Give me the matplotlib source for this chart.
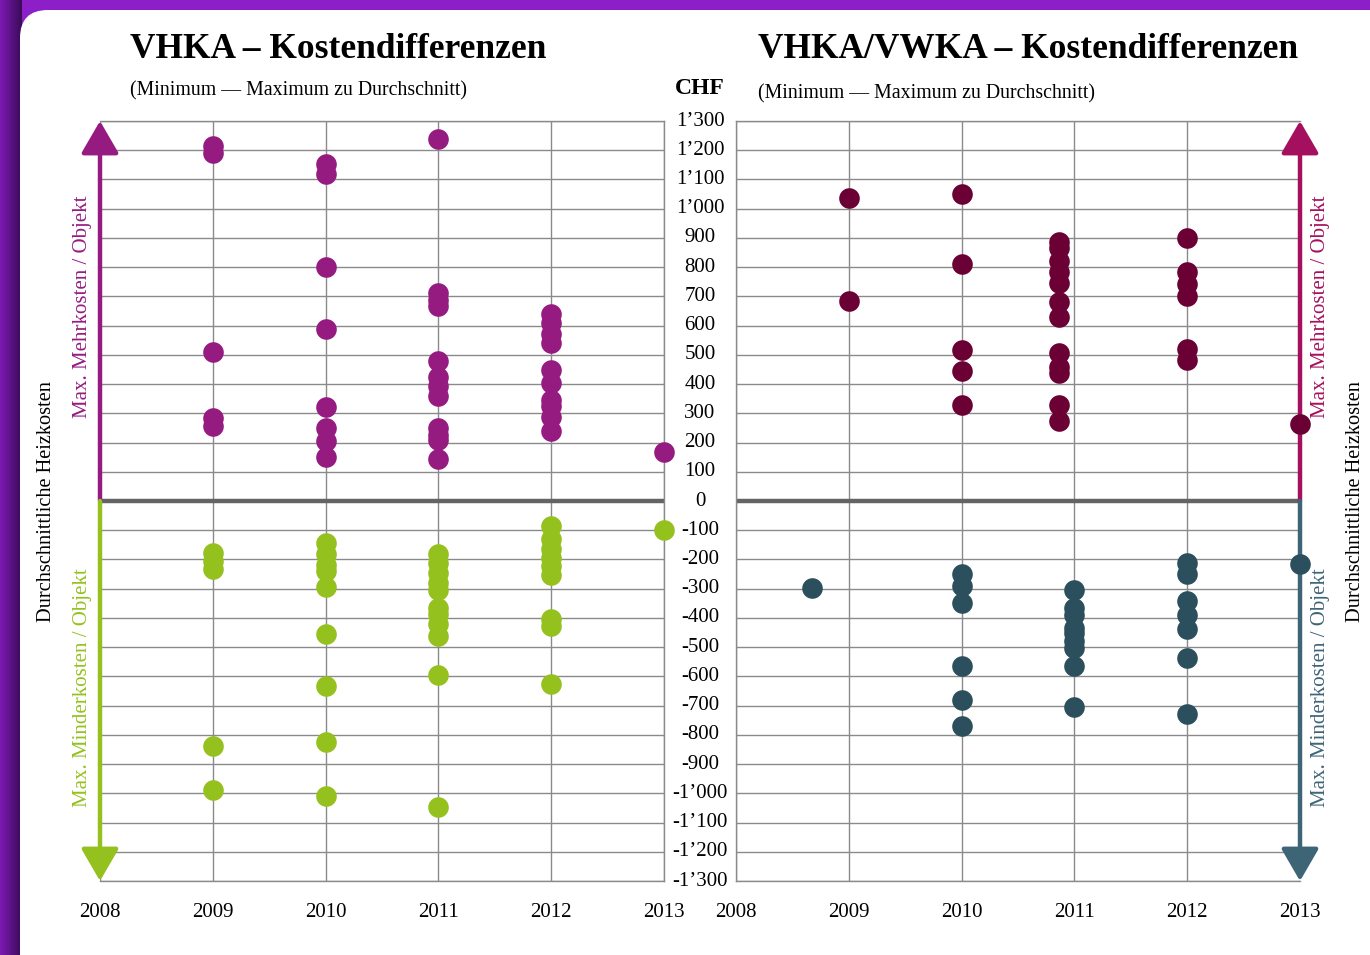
import numpy as np
import matplotlib.pyplot as plt
from matplotlib.patches import FancyBboxPatch
from matplotlib.colors import LinearSegmentedColormap
from matplotlib.transforms import blended_transform_factory

plt.rcParams['font.family'] = ['Liberation Serif', 'DejaVu Serif']

# Werte (CHF) pro Jahr
years = [2008, 2009, 2010, 2011, 2012, 2013]
year_labels = ['2008', '2009', '2010', '2011', '2012', '2013']

# VHKA - Mehrkosten
vhka_plus_x = [2009] * 5 + [2010] * 8 + [2011] * 12 + [2012] * 10 + [2013]
vhka_plus_y = [1215, 1190, 510, 284, 258,
               1153, 1119, 802, 588, 323, 249, 205, 152,
               1237, 713, 688, 668, 478, 425, 395, 359, 249, 226, 209, 143,
               640, 608, 572, 540, 448, 403, 346, 325, 288, 241,
               167]
# VHKA - Minderkosten
vhka_minus_x = [2009] * 5 + [2010] * 9 + [2011] * 11 + [2012] * 9 + [2013]
vhka_minus_y = [-178, -205, -233, -838, -990,
                -144, -180, -220, -238, -294, -455, -633, -825, -1009,
                -182, -212, -245, -280, -305, -367, -388, -420, -462, -595, -1046,
                -86, -131, -165, -196, -222, -253, -405, -428, -627,
                -100]

# VHKA/VWKA - Mehrkosten
vwka_plus_x = [2009] * 2 + [2010] * 5 + [2010.86] * 12 + [2012] * 6 + [2013]
vwka_plus_y = [1037, 684,
               1049, 810, 516, 445, 330,
               885, 865, 820, 785, 745, 682, 628, 505, 460, 438, 330, 275,
               899, 783, 743, 700, 519, 483,
               264]
# VHKA/VWKA - Minderkosten
vwka_minus_x = [2008.67] + [2010] * 6 + [2011] * 9 + [2012] * 7 + [2013]
vwka_minus_y = [-297,
                -250, -291, -348, -563, -681, -770,
                -303, -367, -390, -433, -453, -480, -503, -563, -704,
                -213, -250, -342, -390, -439, -538, -727,
                -216]

yticks = list(range(-1300, 1301, 100))


def chf(v):
    s = f"{abs(v):,}".replace(",", "\u2019")
    return ("-" if v < 0 else "") + s


W, H = 1370, 955
fig = plt.figure(figsize=(13.7, 9.55), dpi=100)
fig.patch.set_facecolor('#8c1fc8')

# Hintergrund: lila Rand + weisse Karte
bg = fig.add_axes([0, 0, 1, 1], zorder=-10)
bg.set_xlim(0, W)
bg.set_ylim(H, 0)
bg.axis('off')
grad = np.linspace(0, 1, 50)[None, :]
cm = LinearSegmentedColormap.from_list('g', ['#7c1ab4', '#3b0b58'])
bg.imshow(np.repeat(grad, 10, axis=0), extent=(0, 22, H, 0), cmap=cm, aspect='auto')
bg.add_patch(FancyBboxPatch((20, 10), 1500, 1200, boxstyle='round,pad=0,rounding_size=28',
                            fc='white', ec='none'))


def panel(rect, up_x, up_y, dn_x, dn_y, c_up, c_dn, a_up, a_dn, arrow_x):
    ax = fig.add_axes(rect)
    ax.set_xlim(2008, 2013)
    ax.set_ylim(-1300, 1300)
    ax.set_xticks(years)
    ax.set_xticklabels(year_labels, fontsize=15)
    ax.set_yticks(yticks)
    ax.set_yticklabels([])
    ax.tick_params(length=0, pad=16)
    ax.grid(True, color='#8a8a8a', lw=1)
    ax.set_axisbelow(True)
    for s in ax.spines.values():
        s.set_color('#8a8a8a')
        s.set_linewidth(1)
    ax.spines['left' if arrow_x == 2008 else 'right'].set_visible(False)
    ax.axhline(0, color='#646464', lw=3.2, zorder=1)
    ax.annotate('', xy=(arrow_x, 1300), xytext=(arrow_x, 0),
                arrowprops=dict(arrowstyle='-|>,head_length=1.0,head_width=0.58',
                                mutation_scale=20, color=a_up, lw=3.2, shrinkA=0, shrinkB=0),
                annotation_clip=False, zorder=3)
    ax.annotate('', xy=(arrow_x, -1300), xytext=(arrow_x, 0),
                arrowprops=dict(arrowstyle='-|>,head_length=1.0,head_width=0.58',
                                mutation_scale=20, color=a_dn, lw=3.2, shrinkA=0, shrinkB=0),
                annotation_clip=False, zorder=3)
    ax.scatter(up_x, up_y, s=220, color=c_up, zorder=4, clip_on=False, lw=0)
    ax.scatter(dn_x, dn_y, s=220, color=c_dn, zorder=4, clip_on=False, lw=0)
    return ax


bottom = 1 - 881 / H
height = (881 - 121) / H
ax1 = panel([100 / W, bottom, 564 / W, height], vhka_plus_x, vhka_plus_y,
            vhka_minus_x, vhka_minus_y, '#951b81', '#95c11f', '#951b81', '#95c11f', 2008)
ax2 = panel([736 / W, bottom, 564 / W, height], vwka_plus_x, vwka_plus_y,
            vwka_minus_x, vwka_minus_y, '#6b0035', '#2b4f5c', '#a5105e', '#3e6576', 2013)

# CHF-Skala in der Mitte
tr = blended_transform_factory(ax1.transAxes, ax1.transData)
for v in yticks:
    ax1.text((700 - 100) / 564, v, chf(v), transform=tr, ha='center', va='center',
             fontsize=15, clip_on=False)
fig.text(700 / W, 1 - 89 / H, 'CHF', ha='center', va='center', fontsize=17, fontweight='bold')

# Titel
fig.text(130 / W, 1 - 50 / H, 'VHKA \u2013 Kostendifferenzen', ha='left', va='center',
         fontsize=25.5, fontweight='bold')
fig.text(130 / W, 1 - 91 / H, '(Minimum \u2014 Maximum zu Durchschnitt)', ha='left',
         va='center', fontsize=14.3)
fig.text(758 / W, 1 - 50 / H, 'VHKA/VWKA \u2013 Kostendifferenzen', ha='left', va='center',
         fontsize=25.5, fontweight='bold')
fig.text(758 / W, 1 - 94 / H, '(Minimum \u2014 Maximum zu Durchschnitt)', ha='left',
         va='center', fontsize=14.3)

# seitliche Beschriftungen
fig.text(47 / W, 1 - 501 / H, 'Durchschnittliche Heizkosten', rotation=90, ha='center',
         va='center', fontsize=14.7)
fig.text(83 / W, 1 - 307 / H, 'Max. Mehrkosten / Objekt', rotation=90, ha='center',
         va='center', fontsize=15, color='#951b81')
fig.text(83 / W, 1 - 688 / H, 'Max. Minderkosten / Objekt', rotation=90, ha='center',
         va='center', fontsize=15, color='#95c11f')
fig.text(1355 / W, 1 - 501 / H, 'Durchschnittliche Heizkosten', rotation=90, ha='center',
         va='center', fontsize=14.7)
fig.text(1320 / W, 1 - 307 / H, 'Max. Mehrkosten / Objekt', rotation=90, ha='center',
         va='center', fontsize=15, color='#a5105e')
fig.text(1320 / W, 1 - 688 / H, 'Max. Minderkosten / Objekt', rotation=90, ha='center',
         va='center', fontsize=15, color='#3e6576')

fig.savefig('out.png', dpi=100)
